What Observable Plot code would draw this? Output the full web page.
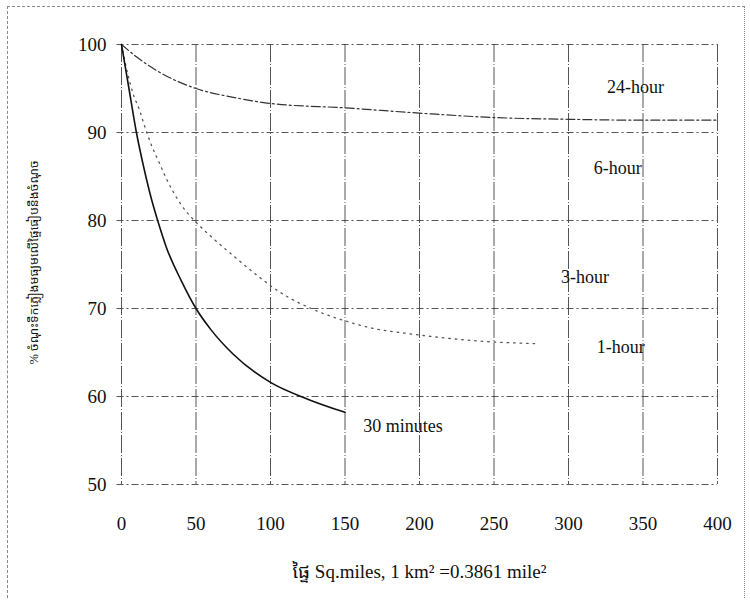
<!DOCTYPE html>
<html>
<head>
<meta charset="utf-8">
<script src="https://cdn.jsdelivr.net/npm/d3@7"></script>
<script src="https://cdn.jsdelivr.net/npm/@observablehq/plot@0.6"></script>
<style>
  html, body { margin: 0; padding: 0; background: #fff; }
  #wrap { position: relative; width: 750px; height: 603px; }
  #border { position: absolute; left: 7px; top: 6px; right: 5px; bottom: 5px;
            border: 1px dashed #888; border-bottom: none; border-right-style: dotted; pointer-events: none; }
</style>
</head>
<body>
<div id="wrap"><div id="border"></div></div>
<script>
const xTicks = [0, 50, 100, 150, 200, 250, 300, 350, 400];
const yTicks = [50, 60, 70, 80, 90, 100];

// 24-hour curve
const area24 = [0, 10, 25, 50, 75, 100, 150, 200, 250, 300, 350, 400];
const pct24  = [100, 98.6, 96.9, 95.0, 94.0, 93.3, 92.8, 92.2, 91.7, 91.5, 91.4, 91.4];

// 1-hour curve
const area1 = [0, 4, 8, 12, 15, 20, 25, 30, 40, 50, 60, 75, 90, 105, 130, 150, 170, 190, 220, 240, 280];
const pct1  = [100, 96.8, 94.3, 92.6, 91, 88.6, 86.7, 84.8, 81.8, 79.8, 78.2, 76, 73.9, 72, 69.8, 68.6, 67.7, 67.2, 66.6, 66.3, 66.0];

// 30 minutes curve
const area30 = [0, 5, 10, 15, 20, 25, 30, 40, 50, 60, 75, 100, 125, 150];
const pct30  = [100, 95, 90, 86, 82.5, 79.6, 77, 73.2, 70, 67.6, 64.8, 61.6, 59.7, 58.2];

// Curve labels
const curveLabels = ["24-hour", "6-hour", "3-hour", "1-hour", "30 minutes"];
const labelArea   = [345, 333, 311, 335, 189];
const labelPct    = [95.1, 85.9, 73.5, 65.6, 56.6];

const toRows = (xs, ys) => xs.map((x, i) => ({x, y: ys[i]}));
const s24 = toRows(area24, pct24);
const s1 = toRows(area1, pct1);
const s30 = toRows(area30, pct30);
const labels = curveLabels.map((t, i) => ({t, x: labelArea[i], y: labelPct[i]}));

const serif = "'Liberation Serif', 'Times New Roman', serif";
const mixed = "'Liberation Serif', 'Noto Sans Khmer', 'Khmer OS', serif";

const chart = Plot.plot({
  width: 750,
  height: 603,
  marginLeft: 121,
  marginRight: 33,
  marginTop: 44,
  marginBottom: 119,
  style: { fontFamily: serif, background: "transparent", color: "#111" },
  x: { domain: [0, 400], ticks: xTicks },
  y: { domain: [50, 100], ticks: yTicks },
  marks: [
    Plot.ruleX(xTicks, { stroke: "#555", strokeWidth: 1, strokeDasharray: "18,2,1,2" }),
    Plot.ruleY(yTicks, { stroke: "#444", strokeWidth: 0.9, strokeDasharray: "7,3,2,3", x1: -3, x2: 400 }),
    Plot.line(s24, { x: "x", y: "y", curve: "monotone-x", stroke: "#333", strokeWidth: 1.2, strokeDasharray: "9,3,2,3" }),
    Plot.line(s1, { x: "x", y: "y", curve: "monotone-x", stroke: "#555", strokeWidth: 1.3, strokeDasharray: "1.5,5" }),
    Plot.line(s30, { x: "x", y: "y", curve: "monotone-x", stroke: "#111", strokeWidth: 1.6 }),
    Plot.text(labels, { x: "x", y: "y", text: "t", fontSize: 18, fill: "#111", fontFamily: serif }),
    Plot.axisX(xTicks, { tickSize: 0, tickPadding: 32, fontSize: 19, label: null }),
    Plot.axisY(yTicks, { tickSize: 0, tickPadding: 15, fontSize: 19, label: null }),
    Plot.text(["ផ្ទៃ Sq.miles, 1 km² =0.3861 mile²"], {
      frameAnchor: "bottom", dy: 93, fontSize: 19, fill: "#111", fontFamily: mixed
    }),
    Plot.text(["% ចំណុះទឹកភ្លៀងមធ្យមលើផ្ទៃធៀបនឹងចំណុច"], {
      frameAnchor: "left", textAnchor: "middle", dx: -88, dy: -2, rotate: -90,
      fontSize: 12.5, fill: "#111", fontFamily: mixed
    })
  ]
});
document.getElementById("wrap").appendChild(chart);
chart.style.position = "absolute";
chart.style.left = "0";
chart.style.top = "0";
</script>
</body>
</html>
